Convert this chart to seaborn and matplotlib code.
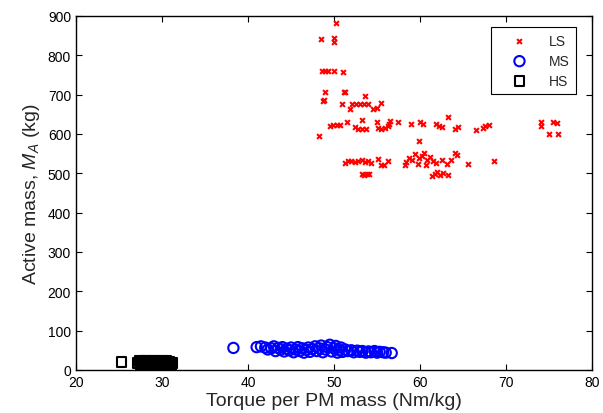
import matplotlib
matplotlib.use("Agg")
import matplotlib.pyplot as plt
import seaborn as sns
import pandas as pd

# LS design points (torque per PM mass, active mass)
ls_x = [50.2, 48.5, 50.0, 50.0, 48.6, 48.9, 49.3, 50.0, 51.0, 48.9, 51.1, 51.3,
        48.7, 48.8, 50.9, 51.9, 52.1, 52.5, 53.0, 53.5, 54.0, 53.6, 54.5, 55.0,
        55.5, 48.2, 49.5, 49.9, 50.3, 50.7, 51.5, 52.4, 53.2, 52.8, 53.2, 53.7,
        55.0, 55.1, 55.5, 55.9, 56.3, 56.5, 56.4, 57.4, 59.0, 60.0, 60.3, 61.9,
        62.2, 62.5, 63.2, 64.0, 64.4, 66.5, 67.3, 67.6, 68.0, 74.0, 74.0, 75.4,
        75.9, 75.0, 76.0, 59.9,
        51.3, 51.6, 52.0, 52.4, 52.8, 53.2, 53.6, 54.0, 54.3,
        53.2, 53.5, 53.8, 54.1,
        55.1, 55.4, 55.8, 56.3,
        58.3, 58.4, 58.7, 59.1, 59.4, 59.7, 59.9, 60.2, 60.5, 60.8, 61.1, 61.5,
        60.7, 61.4, 61.7, 62.0, 62.3, 62.7, 61.9, 62.6, 63.3, 63.1, 63.6, 64.0,
        64.3, 65.6, 68.6]
ls_y = [881, 841, 844, 835, 759, 759, 759, 761, 757, 706, 706, 706,
        685, 686, 676, 663, 676, 676, 677, 676, 676, 697, 663, 665,
        678, 596, 621, 623, 624, 622, 630, 617, 635, 613, 612, 613,
        630, 614, 612, 615, 620, 633, 626, 631, 625, 631, 625, 625,
        620, 617, 642, 613, 617, 611, 615, 619, 623, 621, 631, 631,
        627, 600, 600, 581,
        527, 530, 531, 528, 532, 533, 529, 530, 526,
        498, 496, 497, 497,
        536, 520, 522, 530,
        520, 528, 540, 534, 549, 524, 538, 545, 552, 535, 541, 530,
        521, 493, 499, 503, 496, 500, 527, 534, 496, 524, 533, 552,
        547, 524, 532]

# MS design points
ms_x = [38.3, 41.0, 41.5, 42.0, 42.3, 42.7, 43.0, 43.2, 43.5, 43.8, 44.0, 44.2,
        44.5, 44.8, 45.0, 45.3, 45.5, 45.8, 46.0, 46.3, 46.5, 46.8, 47.0, 47.2,
        47.5, 47.8, 48.0, 48.3, 48.5, 48.7, 49.0, 49.2, 49.5, 49.7, 50.0, 50.2,
        50.4, 50.6, 50.8, 51.0, 51.3, 51.6, 52.0, 52.3, 52.7, 53.0, 53.3, 53.7,
        54.0, 54.3, 54.7, 55.0, 55.3, 55.7, 56.0, 56.7]
ms_y = [56, 58, 60, 57, 52, 55, 60, 48, 56, 52, 58, 47,
        54, 50, 57, 45, 52, 58, 48, 55, 44, 51, 57, 46,
        53, 60, 48, 55, 62, 45, 52, 58, 64, 47, 55, 61,
        44, 50, 57, 46, 52, 48, 50, 45, 49, 46, 48, 44,
        47, 45, 48, 44, 46, 45, 44, 43]

# HS design points
hs_x = [25.3, 27.2, 27.4, 27.6, 27.8, 28.0, 28.2, 28.4, 28.6, 28.8, 29.0, 29.2,
        29.4, 29.6, 29.8, 30.0, 30.2, 30.4, 30.6, 30.8, 31.0, 31.2,
        27.5, 28.1, 28.7, 29.3, 29.9, 30.5, 31.1]
hs_y = [21, 18, 22, 16, 20, 24, 17, 21, 15, 19, 23, 16,
        20, 14, 18, 22, 15, 19, 17, 21, 16, 18,
        14, 23, 13, 24, 13, 23, 14]

sns.set_style("ticks")
plt.rcParams["font.family"] = ["Liberation Sans", "DejaVu Sans"]
plt.rcParams["mathtext.fontset"] = "custom"
plt.rcParams["mathtext.rm"] = "Liberation Sans"
plt.rcParams["mathtext.it"] = "Liberation Sans:italic"

fig = plt.figure(figsize=(6.03, 4.14), dpi=100)
ax = fig.add_axes([0.126, 0.104, 0.856, 0.855])

ls = pd.DataFrame({"x": ls_x, "y": ls_y})
ms = pd.DataFrame({"x": ms_x, "y": ms_y})
hs = pd.DataFrame({"x": hs_x, "y": hs_y})

sns.scatterplot(data=ls, x="x", y="y", marker="x", color="#ff0000", s=12,
                linewidth=1.5, ax=ax, label="LS")
sns.scatterplot(data=ms, x="x", y="y", marker="o", facecolor="none",
                edgecolor="#0000ff", s=55, linewidth=1.5, ax=ax, label="MS")
sns.scatterplot(data=hs, x="x", y="y", marker="s", facecolor="none",
                edgecolor="black", s=50, linewidth=1.5, ax=ax, label="HS")

ax.set_xlim(20, 80)
ax.set_ylim(0, 900)
ax.set_xticks(range(20, 81, 10))
ax.set_yticks(range(0, 901, 100))
ax.tick_params(direction="in", top=True, right=True, labelsize=10,
               length=4, width=0.8, colors="black")
for sp in ax.spines.values():
    sp.set_visible(True)
    sp.set_linewidth(1.0)
    sp.set_color("black")

ax.set_xlabel("Torque per PM mass (Nm/kg)", fontsize=14, labelpad=2)
ax.set_ylabel("Active mass, $M_A$ (kg)", fontsize=14, labelpad=4)

leg = ax.legend(loc="upper right", bbox_to_anchor=(0.968, 0.968), fancybox=False,
                edgecolor="black", framealpha=1, fontsize=10,
                handlelength=3.2, handletextpad=0.5, borderpad=0.45,
                labelspacing=0.45, borderaxespad=0)
leg.get_frame().set_linewidth(0.8)

fig.savefig("out.png", dpi=100)
